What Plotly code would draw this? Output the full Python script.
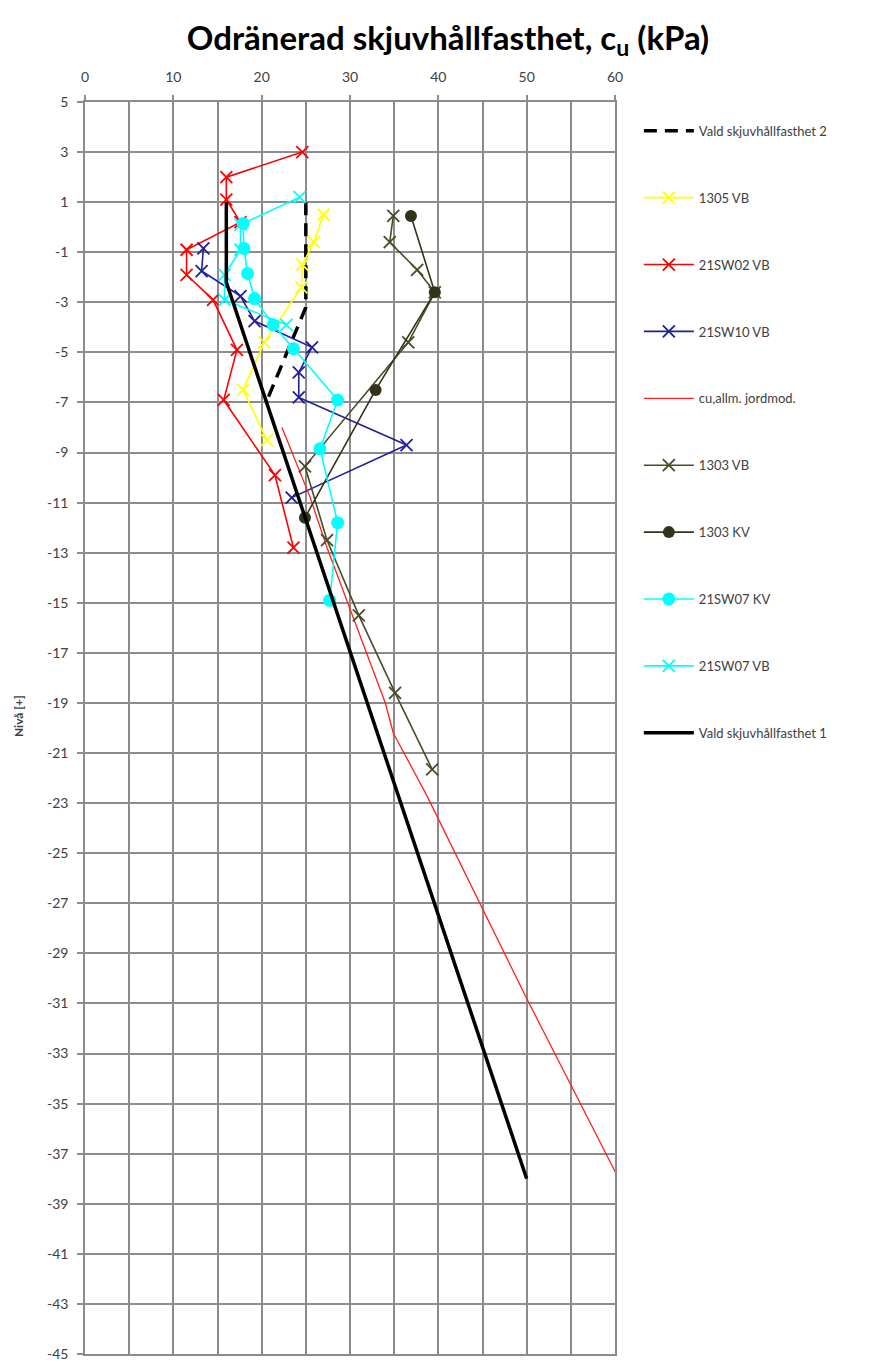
import plotly.graph_objects as go

# ---- Series data: undrained shear strength cu (kPa) vs level (m) ----
vald2_cu = [25.0, 25.0, 20.5]
vald2_niva = [1.0, -3.2, -7.0]

vb1305_cu = [27.0, 25.9, 24.6, 24.5, 20.3, 17.9, 20.6]
vb1305_niva = [0.5, -0.6, -1.5, -2.4, -4.6, -6.5, -8.5]

sw02_cu = [24.6, 16.0, 16.0, 17.6, 11.5, 11.5, 14.5, 17.2, 15.7, 21.5, 23.6]
sw02_niva = [3.0, 2.0, 1.1, 0.2, -0.9, -1.9, -2.9, -4.9, -6.9, -9.9, -12.8]

sw10_cu = [13.4, 13.2, 17.6, 19.2, 25.7, 24.2, 24.2, 36.4, 23.4]
sw10_niva = [-0.85, -1.75, -2.75, -3.75, -4.8, -5.8, -6.8, -8.7, -10.8]

allm_cu = [22.3, 25.5, 27.4, 34.0, 34.9, 38.7, 50.0, 61.0]
allm_niva = [-8.0, -10.8, -12.8, -19.0, -20.2, -22.7, -30.8, -38.4]

vb1303_cu = [34.9, 34.5, 37.6, 39.6, 36.6, 24.9, 27.4, 31.0, 35.1, 39.3]
vb1303_niva = [0.45, -0.6, -1.7, -2.6, -4.6, -9.55, -12.5, -15.5, -18.6, -21.65]

kv1303_cu = [36.9, 39.6, 32.9, 24.9]
kv1303_niva = [0.45, -2.6, -6.5, -11.6]

sw07kv_cu = [17.9, 18.0, 18.4, 19.2, 21.3, 23.6, 28.6, 26.6, 28.6, 27.7]
sw07kv_niva = [0.15, -0.85, -1.85, -2.85, -3.9, -4.85, -6.9, -8.85, -11.8, -14.9]

sw07vb_cu = [24.3, 17.6, 17.6, 15.8, 15.8, 22.8]
sw07vb_niva = [1.2, 0.1, -0.9, -1.9, -2.9, -3.9]

vald1_cu = [16.0, 16.0, 50.0]
vald1_niva = [1.0, -2.2, -38.0]

# ---- Axis ticks ----
x_ticks = [0, 10, 20, 30, 40, 50, 60]
y_ticks = list(range(5, -46, -2))
y_labels = [str(v) for v in y_ticks]

FONT = "Lato, 'Open Sans', sans-serif"
GRID = "#8c8c8c"
W, H = 896, 1369
ML, MR, MT, MB = 85, 281, 102, 7
PW, PH = W - ML - MR, H - MT - MB

fig = go.Figure()


def add(name, x, y, color, width=1.6, symbol=None, size=12, dash=None):
    kw = dict(x=x, y=y, name=name, legendgroup=name,
              line=dict(color=color, width=width, dash=dash))
    if symbol is None:
        kw["mode"] = "lines"
    else:
        kw["mode"] = "lines+markers"
        if symbol == "x":
            kw["marker"] = dict(symbol="x-thin", size=size, color=color,
                                line=dict(color=color, width=1.8))
        else:
            kw["marker"] = dict(symbol="circle", size=size, color=color,
                                line=dict(width=0))
    fig.add_trace(go.Scatter(**kw))


add("Vald skjuvhållfasthet 2", vald2_cu, vald2_niva, "#000000", width=3.5, dash="13px,8px")
add("1305 VB", vb1305_cu, vb1305_niva, "#ffff00", symbol="x")
add("21SW02 VB", sw02_cu, sw02_niva, "#ff0000", symbol="x")
add("21SW10 VB", sw10_cu, sw10_niva, "#1f1f99", symbol="x")
add("cu,allm. jordmod.", allm_cu, allm_niva, "#ff2020", width=1.3)
add("1303 VB", vb1303_cu, vb1303_niva, "#4a4a28", symbol="x")
add("1303 KV", kv1303_cu, kv1303_niva, "#33331a", symbol="circle", size=12)
add("21SW07 KV", sw07kv_cu, sw07kv_niva, "#00ffff", symbol="circle", size=13)
add("21SW07 VB", sw07vb_cu, sw07vb_niva, "#00ffff", symbol="x")
add("Vald skjuvhållfasthet 1", vald1_cu, vald1_niva, "#000000", width=3.5)

fig.update_layout(
    width=W, height=H,
    margin=dict(l=ML, r=MR, t=MT, b=MB),
    paper_bgcolor="white", plot_bgcolor="white",
    font=dict(family=FONT, size=13, color="#404040"),
    title=dict(text="<b>Odränerad skjuvhållfasthet, c<sub>u</sub> (kPa)</b>",
               x=0.5, xref="container", xanchor="center",
               y=1 - 38 / H, yref="container", yanchor="middle",
               font=dict(family=FONT, size=33, color="#000000")),
    showlegend=True,
    legend=dict(x=1.045, xanchor="left", y=0.989, yanchor="top",
                font=dict(family=FONT, size=13, color="#404040"),
                tracegroupgap=47, itemwidth=50, bgcolor="rgba(0,0,0,0)"),
    annotations=[dict(text="<b>Nivå [+]</b>",
                      x=(18 - ML) / PW, y=(H - MB - 720) / PH,
                      xref="paper", yref="paper", xanchor="center", yanchor="middle",
                      showarrow=False, textangle=-90,
                      font=dict(family=FONT, size=12, color="#404040"))],
)

fig.update_xaxes(
    side="top", range=[0, 60], tickvals=x_ticks,
    showgrid=True, gridcolor=GRID, gridwidth=1.5,
    minor=dict(dtick=5, showgrid=True, gridcolor=GRID, gridwidth=1.5),
    showline=True, linecolor=GRID, linewidth=1.5, mirror=True,
    ticks="outside", ticklen=5, tickcolor=GRID, tickwidth=1.5,
    ticklabelstandoff=8,
    zeroline=False, tickfont=dict(size=14, color="#404040"),
)
fig.update_yaxes(
    range=[-45, 5], tickvals=y_ticks, ticktext=y_labels,
    showgrid=True, gridcolor=GRID, gridwidth=1.5,
    showline=True, linecolor=GRID, linewidth=1.5, mirror=True,
    ticks="outside", ticklen=6, tickcolor=GRID, tickwidth=1.5,
    ticklabelstandoff=6,
    zeroline=False, tickfont=dict(size=14, color="#404040"),
)

fig.write_html("out.html")
